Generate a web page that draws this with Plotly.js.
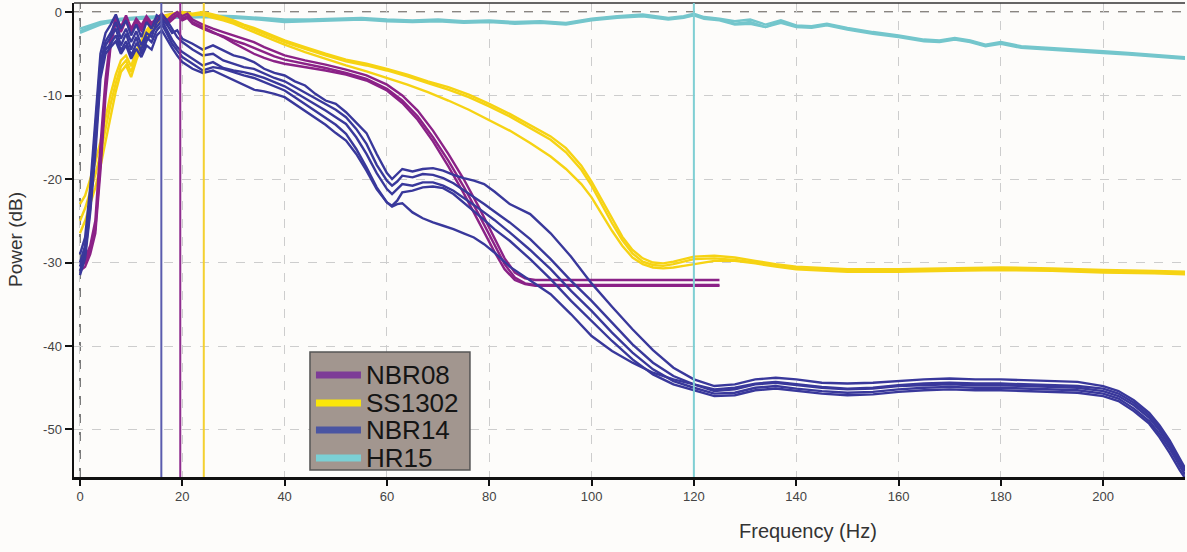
<!DOCTYPE html>
<html>
<head>
<meta charset="utf-8">
<script src="https://cdn.plot.ly/plotly-3.0.1.min.js"></script>
<style>
html,body{margin:0;padding:0;background:#fdfcfa;}
#chart{width:1187px;height:552px;}
</style>
</head>
<body>
<div id="chart"></div>
<script>
// ---------------- DATA ----------------
const seriesNames = ["NBR08", "SS1302", "NBR14", "HR15"];

// NBR08 (3 recordings)
const nbr08X = [0,1,2,3,4,5,6,7,8,9,10,11,12,13,14,15,16,17,18,19,20,21,22,24,26,28,30,32,34,36,38,40,44,48,52,56,60,63,66,69,72,75,78,81,83,85,87,89,100,110,125];
const nbr08A = [-30,-29.5,-28,-25,-16,-8,-3,-0.6,-1.8,-0.4,-2,-0.8,-1.6,-0.5,-1.3,-0.7,-0.2,-1,-0.4,0,-0.5,-0.2,-0.9,-1.5,-2.0,-2.4,-2.8,-3.2,-3.6,-4.2,-4.7,-5.2,-5.8,-6.3,-6.9,-7.6,-8.7,-10.0,-11.8,-14.2,-17.0,-20.0,-23.4,-27.0,-29.5,-31.2,-31.9,-32.1,-32.1,-32.1,-32.1];
const nbr08B = [-31,-30.5,-29,-26.5,-19,-10,-4,-1.2,-2.4,-1,-2.6,-1.4,-2.2,-1,-1.8,-1.2,-0.6,-1.5,-0.9,-0.4,-1,-0.7,-1.4,-2.0,-2.5,-2.9,-3.4,-3.8,-4.3,-4.8,-5.3,-5.7,-6.2,-6.7,-7.3,-8.0,-9.2,-10.6,-12.5,-15.0,-17.8,-20.9,-24.3,-27.9,-30.2,-31.8,-32.5,-32.7,-32.7,-32.7,-32.7];
const nbr08C = [-30.5,-30,-28.5,-26,-18,-9,-3.6,-1,-2.2,-0.8,-2.4,-1.2,-2,-0.8,-1.6,-1,-0.5,-1.3,-0.7,-0.3,-0.8,-0.5,-1.2,-1.8,-2.4,-3.0,-3.7,-4.4,-5.0,-5.5,-5.9,-6.2,-6.6,-7.0,-7.5,-8.2,-9.4,-10.9,-12.9,-15.5,-18.5,-21.7,-25.2,-28.7,-30.8,-32.1,-32.6,-32.8,-32.8,-32.8,-32.8];

// SS1302 (3 recordings)
const ss1302X = [0,1,2,3,4,5,6,7,8,9,10,11,12,13,14,15,16,18,20,22,24,26,28,30,32,34,36,38,40,44,48,52,56,60,64,68,72,76,80,84,88,92,95,98,100,102,104,106,108,110,112,114,116,118,120,124,128,132,136,140,150,160,170,180,190,200,210,216];
const ss1302A = [-23,-22,-20,-18,-15.5,-12.5,-9.8,-7.5,-5.8,-5.2,-6.5,-4.6,-3.4,-2.2,-1.4,-0.9,-0.5,-0.2,0,-0.2,0,-0.3,-0.6,-1.0,-1.5,-1.9,-2.4,-2.9,-3.4,-4.2,-5.0,-5.7,-6.2,-6.8,-7.5,-8.3,-9.0,-9.9,-11.0,-12.2,-13.5,-14.9,-16.3,-18.4,-20.3,-22.5,-24.8,-26.9,-28.5,-29.5,-30.0,-30.1,-29.9,-29.6,-29.3,-29.2,-29.4,-29.8,-30.2,-30.5,-30.8,-30.8,-30.7,-30.6,-30.7,-30.9,-31.0,-31.1];
const ss1302B = [-25,-23.5,-21.5,-19.5,-17,-14,-11,-8.5,-6.5,-5.8,-7.2,-5.2,-3.8,-2.6,-1.6,-1.0,-0.6,-0.3,-0.1,-0.3,-0.2,-0.5,-0.8,-1.2,-1.6,-2.1,-2.6,-3.1,-3.6,-4.4,-5.2,-5.9,-6.4,-7.0,-7.7,-8.5,-9.3,-10.2,-11.3,-12.5,-13.9,-15.3,-16.8,-18.9,-20.8,-23.0,-25.3,-27.3,-28.9,-29.9,-30.3,-30.4,-30.2,-29.9,-29.6,-29.5,-29.7,-30.0,-30.4,-30.7,-31.0,-31.0,-30.9,-30.8,-30.9,-31.1,-31.2,-31.3];
const ss1302C = [-26.5,-25,-23,-21,-18.5,-15.5,-12.5,-9.5,-7.2,-6.4,-7.8,-5.8,-4.2,-3,-2,-1.3,-0.8,-0.4,-0.2,-0.4,-0.3,-0.7,-1.0,-1.4,-1.9,-2.4,-2.9,-3.4,-3.9,-4.8,-5.6,-6.4,-7.1,-7.9,-8.7,-9.6,-10.6,-11.7,-12.9,-14.2,-15.7,-17.3,-18.8,-20.6,-22.2,-24.2,-26.2,-28.0,-29.4,-30.2,-30.6,-30.7,-30.6,-30.4,-30.2,-29.8,-29.8,-30.1,-30.5,-30.8,-31.1,-31.1,-31.0,-30.9,-31.0,-31.2,-31.3,-31.4];

// NBR14 (5 recordings)
const nbr14X = [0,1,2,3,4,5,6,7,8,9,10,11,12,13,14,15,16,17,18,19,20,22,24,26,28,30,32,34,36,38,40,42,44,46,48,50,52,54,56,58,60,61,62,63,65,67,69,71,73,75,77,79,81,84,88,92,96,100,104,108,112,116,120,124,128,132,136,140,145,150,155,160,165,170,175,180,185,190,195,200,203,206,209,211,213,215,216];
const nbr14A = [-29,-27,-21,-13,-5,-2.5,-1.5,-0.3,-2,-1,-2.8,-1.5,-3,-1.2,-2,-0.4,-0.8,-1.5,-2.5,-2.2,-3.2,-3.8,-4.5,-4.0,-4.6,-5.2,-5.5,-6.0,-6.8,-7.3,-7.6,-8.3,-8.8,-9.8,-10.6,-11.0,-12.0,-13.2,-14.5,-17.0,-19.3,-20.0,-19.4,-18.8,-19.1,-18.8,-18.7,-19.0,-19.5,-19.9,-20.2,-20.6,-21.5,-23.0,-24.2,-26.5,-29.3,-32.5,-35.3,-38.0,-40.5,-42.6,-44.0,-44.8,-44.6,-44.0,-43.8,-44.0,-44.4,-44.5,-44.4,-44.2,-44.0,-43.9,-44.0,-44.0,-44.1,-44.2,-44.3,-44.8,-45.4,-46.5,-48.0,-49.5,-51.3,-53.5,-54.6];
const nbr14B = [-30,-28,-22,-14,-6,-3.5,-2.5,-1.2,-3.2,-2,-3.6,-2.3,-4,-2.5,-3,-1.2,-0.3,-1,-2,-3,-3.6,-4.5,-5.2,-5.0,-5.8,-6.2,-6.6,-6.8,-7.4,-7.9,-8.3,-9.0,-9.6,-10.4,-11.0,-11.7,-12.6,-14.0,-15.8,-18.3,-20.2,-20.8,-20.3,-19.6,-19.8,-19.4,-19.5,-19.9,-20.5,-21.3,-22.2,-23.0,-23.9,-25.2,-27.2,-29.6,-32.2,-34.6,-37.2,-39.8,-42.0,-43.6,-44.6,-45.4,-45.2,-44.6,-44.4,-44.7,-45.0,-45.2,-45.1,-44.8,-44.7,-44.6,-44.7,-44.7,-44.8,-44.9,-45.0,-45.4,-46.0,-47.1,-48.6,-50.1,-51.9,-54.0,-55.0];
const nbr14C = [-31,-29,-23.5,-16,-7,-4,-3,-2,-4,-2.6,-4.5,-3,-5,-3.5,-2.4,-1.8,-1,-2.2,-3.3,-4.2,-4.8,-5.6,-6.4,-6.0,-6.7,-7.0,-7.2,-7.5,-7.9,-8.4,-8.9,-9.6,-10.3,-11.0,-11.8,-12.6,-13.4,-15.0,-17.0,-19.3,-21.2,-21.8,-21.2,-20.6,-20.8,-20.4,-20.4,-20.8,-21.4,-22.2,-23.1,-24.0,-24.9,-26.4,-28.5,-30.8,-33.4,-35.8,-38.4,-40.8,-42.8,-44.2,-45.0,-45.7,-45.6,-45.0,-44.8,-45.1,-45.4,-45.6,-45.5,-45.2,-45.0,-44.9,-45.0,-45.0,-45.1,-45.2,-45.3,-45.7,-46.3,-47.5,-49.0,-50.5,-52.3,-54.4,-55.4];
const nbr14D = [-30.5,-28.5,-22.5,-15,-6.5,-4.5,-3.8,-2.8,-4.6,-3.5,-5.2,-3.8,-4.4,-3,-3.6,-2.2,-1.5,-2.6,-3.8,-4.6,-5.4,-6.2,-7.0,-6.6,-6.8,-7.2,-7.6,-7.9,-8.4,-8.9,-9.4,-10.2,-11.0,-11.8,-12.6,-13.5,-14.6,-16.4,-18.6,-21.0,-22.8,-23.2,-22.6,-21.6,-21.4,-21.0,-20.9,-21.1,-21.8,-22.8,-23.8,-24.9,-26.0,-27.4,-29.6,-32.0,-34.6,-37.0,-39.4,-41.6,-43.4,-44.6,-45.3,-46.0,-45.9,-45.3,-45.1,-45.4,-45.7,-45.9,-45.8,-45.5,-45.3,-45.2,-45.3,-45.3,-45.4,-45.5,-45.6,-46.0,-46.6,-47.8,-49.3,-50.9,-52.8,-54.9,-55.8];
const nbr14E = [-31.5,-29.5,-24,-17,-8,-5,-4.2,-3.5,-5,-4,-5.6,-4.4,-5.4,-4,-4.5,-2.8,-2.2,-3.3,-4.3,-5.2,-6,-6.8,-7.3,-7.0,-7.6,-8.2,-8.8,-9.3,-9.5,-9.8,-10.2,-11.0,-11.8,-12.6,-13.5,-14.5,-15.4,-17.0,-19.0,-21.2,-22.8,-23.3,-23.0,-22.9,-24.0,-24.7,-25.2,-25.6,-26.0,-26.5,-27.0,-27.8,-28.8,-30.5,-32.2,-33.8,-36.2,-38.8,-40.6,-42.0,-43.2,-44.0,-44.6,-45.2,-45.0,-44.5,-44.3,-44.6,-44.9,-45.1,-45.0,-44.7,-44.5,-44.4,-44.5,-44.5,-44.6,-44.7,-44.8,-45.1,-45.7,-46.8,-48.3,-49.8,-51.6,-53.8,-54.8];

// HR15 (3 recordings)
const hr15X = [0,2,4,6,8,12,16,20,25,30,35,40,45,50,55,60,65,70,75,80,85,90,95,100,105,110,115,118,120,122,125,128,131,134,137,140,143,146,150,155,160,165,168,171,174,177,180,184,190,195,200,205,210,216];
const hr15A = [-2.3,-1.8,-1.4,-1.1,-0.9,-0.7,-0.6,-0.6,-0.5,-0.6,-0.8,-1.1,-1.0,-0.9,-0.8,-1.0,-1.1,-1.0,-1.2,-1.1,-1.3,-1.2,-1.4,-0.9,-0.6,-0.4,-0.8,-0.6,-0.3,-0.7,-0.9,-1.4,-1.2,-1.8,-1.1,-1.7,-1.8,-1.5,-2.0,-2.5,-2.9,-3.4,-3.5,-3.2,-3.5,-4.0,-3.7,-4.2,-4.4,-4.6,-4.8,-5.0,-5.2,-5.5];
const hr15B = [-2.0,-1.6,-1.2,-1.0,-0.8,-0.6,-0.5,-0.5,-0.4,-0.5,-0.7,-0.9,-0.9,-0.8,-0.7,-0.9,-1.0,-0.9,-1.1,-1.0,-1.2,-1.1,-1.3,-0.8,-0.5,-0.3,-0.7,-0.5,-0.2,-0.6,-0.8,-1.1,-0.9,-1.5,-1.0,-1.6,-1.7,-1.4,-1.9,-2.4,-2.8,-3.3,-3.4,-3.1,-3.4,-3.9,-3.6,-4.1,-4.3,-4.5,-4.7,-4.9,-5.1,-5.4];
const hr15C = [-2.5,-2.0,-1.5,-1.2,-1.0,-0.8,-0.7,-0.7,-0.6,-0.7,-0.9,-1.2,-1.1,-1.0,-0.9,-1.1,-1.2,-1.1,-1.3,-1.2,-1.4,-1.3,-1.5,-1.0,-0.7,-0.5,-0.9,-0.7,-0.4,-0.8,-1.0,-1.5,-1.4,-1.8,-1.3,-1.8,-1.9,-1.6,-2.1,-2.6,-3.0,-3.5,-3.6,-3.3,-3.6,-4.1,-3.8,-4.3,-4.5,-4.7,-4.9,-5.1,-5.3,-5.6];

// Characteristic frequencies (vertical markers), same order as seriesNames
const markerFreqs = [19.6, 24.2, 15.9, 120];

// Axis ticks
const xTickVals = [0,20,40,60,80,100,120,140,160,180,200];
const xTickText = ["0","20","40","60","80","100","120","140","160","180","200"];
const yTickVals = [0,-10,-20,-30,-40,-50];
const yTickText = ["0","-10","-20","-30","-40","-50"];

// ---------------- STYLE ----------------
const lineColors = {NBR08:"#8b2287", SS1302:"#f6d313", NBR14:"#39389b", HR15:"#74c6cc"};
const legendColors = {NBR08:"#7d3c97", SS1302:"#fae60a", NBR14:"#4a55a2", HR15:"#7bd0d5"};
const markerColors = ["#8e2c8e","#f4d030","#5a5cae","#7fcfd3"];

function curve(x, y, name){
  return {type:"scatter", mode:"lines", x:x, y:y, name:name, showlegend:false,
          hoverinfo:"skip", line:{color:lineColors[name], width:2.4}};
}

const traces = [
  curve(hr15X, hr15A, "HR15"), curve(hr15X, hr15B, "HR15"), curve(hr15X, hr15C, "HR15"),
  curve(ss1302X, ss1302A, "SS1302"), curve(ss1302X, ss1302B, "SS1302"), curve(ss1302X, ss1302C, "SS1302"),
  curve(nbr08X, nbr08A, "NBR08"), curve(nbr08X, nbr08B, "NBR08"), curve(nbr08X, nbr08C, "NBR08"),
  curve(nbr14X, nbr14A, "NBR14"), curve(nbr14X, nbr14B, "NBR14"), curve(nbr14X, nbr14C, "NBR14"),
  curve(nbr14X, nbr14D, "NBR14"), curve(nbr14X, nbr14E, "NBR14")
];

const shapes = [
  {type:"line", xref:"paper", yref:"y", x0:0, x1:1, y0:0, y1:0, layer:"below",
   line:{color:"#8a8580", width:2, dash:"dash"}},
  {type:"line", xref:"x", yref:"paper", x0:0, x1:0, y0:0, y1:1, layer:"below",
   line:{color:"#7a7a7a", width:2, dash:"dash"}},
  {type:"line", xref:"paper", yref:"paper", x0:0, x1:1, y0:1, y1:1,
   line:{color:"#333", width:1.5}}
];
markerFreqs.forEach(function(f, i){
  shapes.push({type:"line", xref:"x", yref:"paper", x0:f, x1:f, y0:0, y1:1,
               line:{color:markerColors[i], width:2}});
});

// ---- legend box (drawn as layout shapes + annotations) ----
const legBox = {x0:0.2124, x1:0.3564, y0:0.0148, y1:0.2637};
const legRows = [0.2152, 0.1561, 0.0992, 0.0401];
const legSwatch = {x0:0.2178, x1:0.2583};
const legTextX = 0.2610;
shapes.push({type:"rect", xref:"paper", yref:"paper", x0:legBox.x0, x1:legBox.x1, y0:legBox.y0, y1:legBox.y1,
             fillcolor:"#a2968f", line:{color:"#555", width:1.5}});
const annotations = [
  {text:"Frequency (Hz)", xref:"paper", yref:"paper", x:0.661, y:-0.113,
   xanchor:"center", yanchor:"middle", showarrow:false, font:{size:20, color:"#333"}},
  {text:"Power (dB)", xref:"paper", yref:"paper", x:-0.0531, y:0.5,
   xanchor:"center", yanchor:"middle", textangle:-90, showarrow:false, font:{size:19, color:"#333"}}
];
seriesNames.forEach(function(n, i){
  shapes.push({type:"line", xref:"paper", yref:"paper", x0:legSwatch.x0, x1:legSwatch.x1,
               y0:legRows[i], y1:legRows[i], line:{color:legendColors[n], width:7}});
  annotations.push({text:n, xref:"paper", yref:"paper", x:legTextX, y:legRows[i],
                    xanchor:"left", yanchor:"middle", showarrow:false,
                    font:{size:26, color:"#151515"}});
});

const layout = {
  width:1187, height:552,
  margin:{l:74, r:2, t:3, b:75},
  paper_bgcolor:"#fdfcfa", plot_bgcolor:"#fdfcfa",
  font:{family:"Liberation Sans, Arial, sans-serif", color:"#444"},
  showlegend:false,
  xaxis:{range:[-1.17, 216.0], tickmode:"array", tickvals:xTickVals, ticktext:xTickText,
         showgrid:true, gridcolor:"#cdcdcd", gridwidth:1, griddash:"dash",
         zeroline:false, showline:true, linecolor:"#111", linewidth:2.5,
         ticks:"outside", ticklen:6, tickwidth:2, tickcolor:"#111",
         tickfont:{size:13, color:"#444"}},
  yaxis:{range:[-55.69, 1.08], tickmode:"array", tickvals:yTickVals, ticktext:yTickText,
         showgrid:true, gridcolor:"#cdcdcd", gridwidth:1, griddash:"dash",
         zeroline:false, showline:true, linecolor:"#111", linewidth:2.5,
         ticks:"outside", ticklen:7, tickwidth:2, tickcolor:"#111",
         tickfont:{size:13, color:"#444"}},
  shapes:shapes,
  annotations:annotations
};

Plotly.newPlot("chart", traces, layout, {displayModeBar:false, staticPlot:true});
</script>
</body>
</html>
